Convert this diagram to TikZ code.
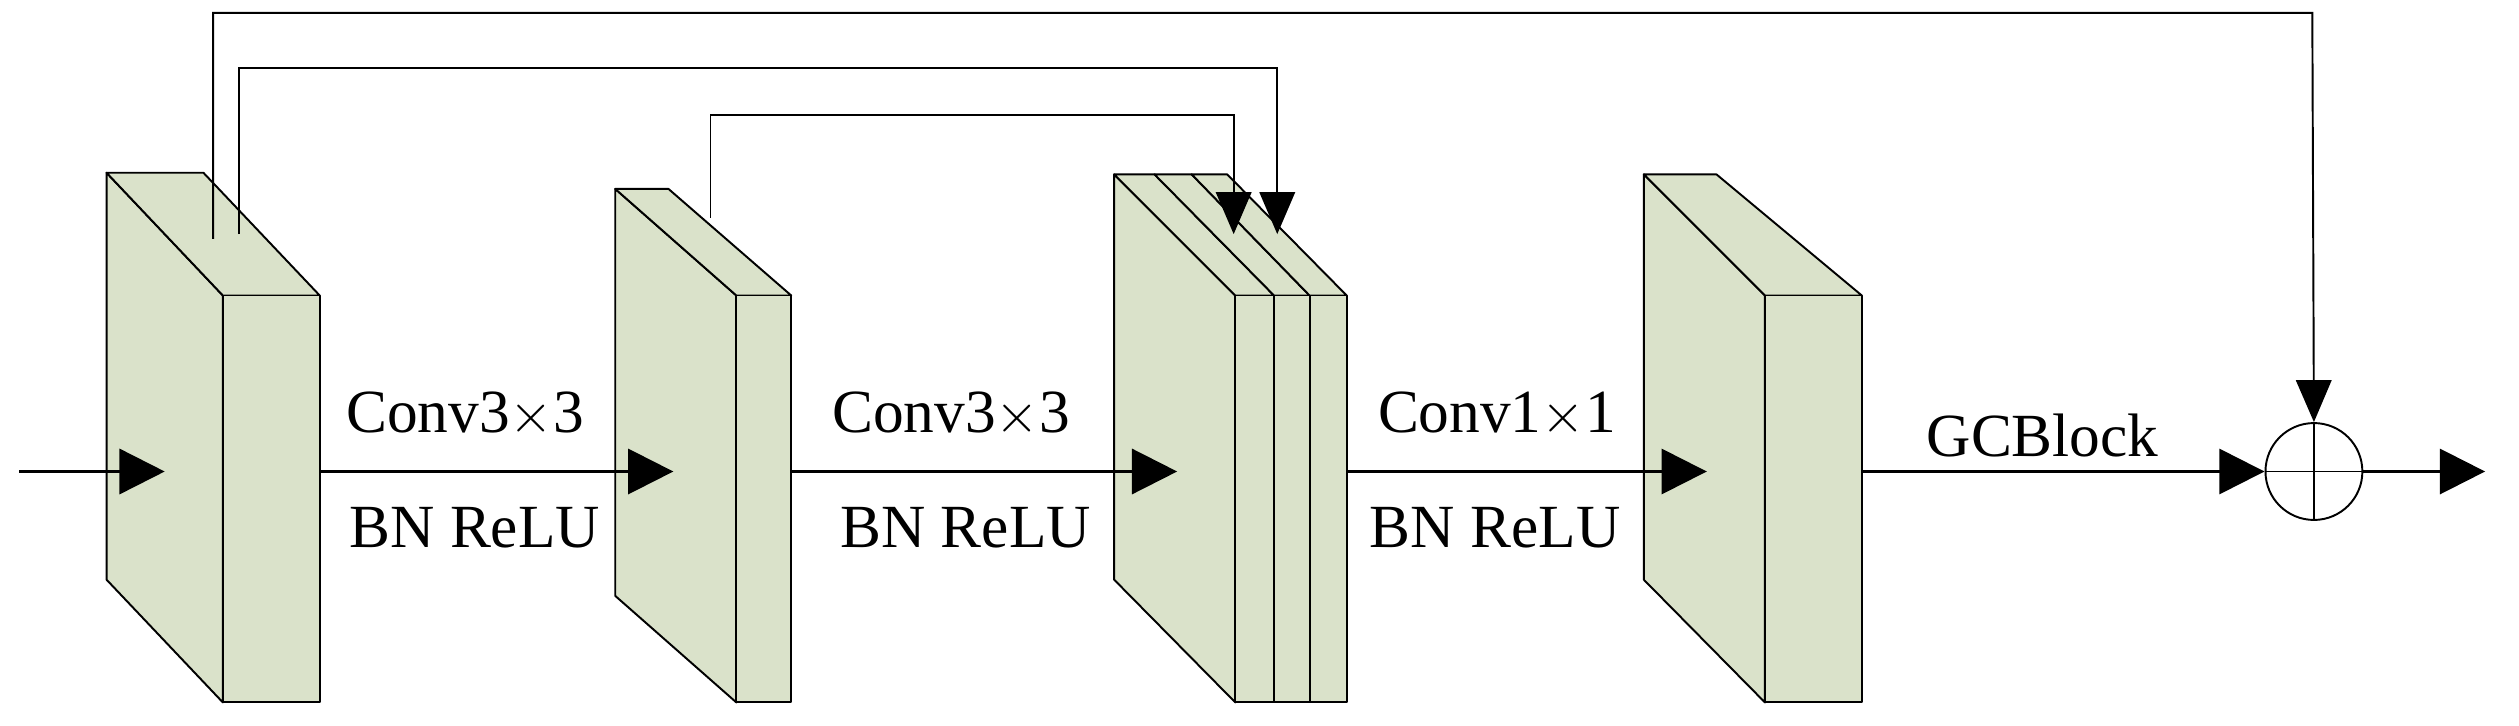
\documentclass[tikz,border=0pt]{standalone}
\usepackage{fontspec}
\setmainfont{Liberation Serif}
\usetikzlibrary{arrows.meta}
\definecolor{slab}{RGB}{218,226,202}
\begin{document}
\begin{tikzpicture}[x=0.5pt,y=-0.5pt,
  face/.style={fill=slab,draw=black,line width=0.6pt,line join=round},
  flow/.style={line width=0.8pt,-{Triangle[length=14pt,width=14pt]}},
  skip/.style={line width=0.6pt,-{Triangle[length=13pt,width=11pt]}},
  lab/.style={font=\fontsize{19}{22}\selectfont,inner sep=0pt}]
\useasboundingbox (0,0) rectangle (1560,449);
% block 1
\draw[face] (66,107)--(138,183)--(138,435)--(66,359)--cycle;
\draw[face] (66,107)--(126,107)--(198,183)--(138,183)--cycle;
\draw[face] (138,183) rectangle (198,435);
% block 2
\draw[face] (381,117)--(456,183)--(456,435)--(381,369)--cycle;
\draw[face] (381,117)--(414,117)--(490,183)--(456,183)--cycle;
\draw[face] (456,183) rectangle (490,435);
% block 3 (three slabs)
\draw[face] (690,108)--(765,183)--(765,435)--(690,359)--cycle;
\draw[face] (690,108)--(715,108)--(789,183)--(765,183)--cycle;
\draw[face] (715,108)--(738,108)--(811,183)--(789,183)--cycle;
\draw[face] (738,108)--(760,108)--(834,183)--(811,183)--cycle;
\draw[face] (765,183) rectangle (789,435);
\draw[face] (789,183) rectangle (811,435);
\draw[face] (811,183) rectangle (834,435);
% block 4
\draw[face] (1018,108)--(1093,183)--(1093,435)--(1018,359)--cycle;
\draw[face] (1018,108)--(1063,108)--(1153,183)--(1093,183)--cycle;
\draw[face] (1093,183) rectangle (1153,435);
% coordinates
\coordinate (in) at (12,292);
\coordinate (t1) at (102,292);
\coordinate (o1) at (198,292);
\coordinate (t2) at (417,292);
\coordinate (o2) at (490,292);
\coordinate (t3) at (729,292);
\coordinate (o3) at (834,292);
\coordinate (t4) at (1057,292);
\coordinate (o4) at (1153,292);
\coordinate (out) at (1539,292);
\node[circle,draw,line width=0.6pt,minimum size=30pt,inner sep=0pt] (sum) at (1433,292) {};
\draw[line width=0.5pt] (sum.north)--(sum.south) (sum.west)--(sum.east);
% main flow
\draw[flow] (in)--(t1);
\draw[flow] (o1)--(t2);
\draw[flow] (o2)--(t3);
\draw[flow] (o3)--(t4);
\draw[flow] (o4)--(sum.west);
\draw[flow] (sum.east)--(out);
% skips
\coordinate (s1) at (132,148);
\coordinate (s2) at (148,145);
\coordinate (s3) at (440,135);
\coordinate (e2) at (791,145);
\coordinate (e3) at (764,145);
\draw[skip] (s1)--(132,8)--(1432,8)--(sum.north);
\draw[skip] (s2)--(148,42)--(791,42)--(e2);
\draw[skip] (s3)--(440,71)--(764,71)--(e3);
% labels
\node[lab] (l1) at (288,257) {Conv3$\times$3};
\node[lab] (l2) at (294,327) {BN ReLU};
\node[lab] (l3) at (589,257) {Conv3$\times$3};
\node[lab] (l4) at (598,327) {BN ReLU};
\node[lab] (l5) at (927,257) {Conv1$\times$1};
\node[lab] (l6) at (926,327) {BN ReLU};
\node[lab] (l7) at (1265,270) {GCBlock};
\end{tikzpicture}
\end{document}
